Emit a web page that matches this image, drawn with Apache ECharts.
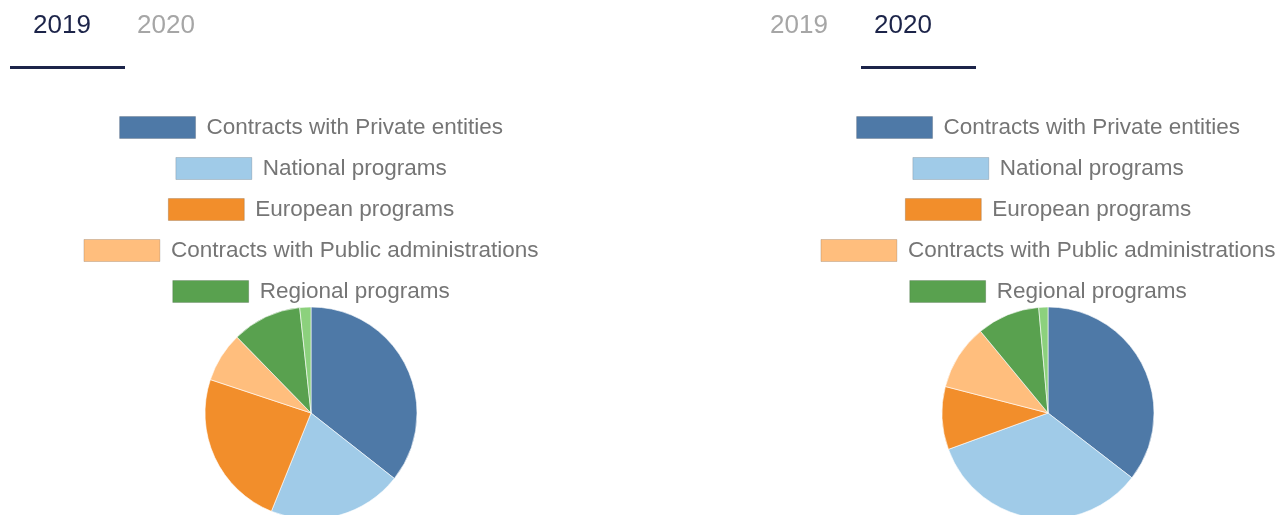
<!DOCTYPE html>
<html>
<head>
<meta charset="utf-8">
<script src="https://cdn.jsdelivr.net/npm/echarts@6/dist/echarts.min.js"></script>
<style>
  html, body { margin: 0; padding: 0; background: #fff; overflow: hidden; width: 1279px; height: 515px; }
  .box { position: absolute; top: 0; width: 622px; height: 515px; }
</style>
</head>
<body>
<div id="c2019" class="box" style="left:0px"></div>
<div id="c2020" class="box" style="left:737px"></div>
<script>
// 数据
var years = ['2019', '2020'];
var categories = [
  'Contracts with Private entities',
  'National programs',
  'European programs',
  'Contracts with Public administrations',
  'Regional programs',
  'Other'
];
var legendNames = categories.slice(0, 5); // 图例只显示前五项
var colors = ['#4e79a7', '#a0cbe8', '#f28e2b', '#ffbe7d', '#59a14f', '#8cd17d'];
var values2019 = [35.6, 20.5, 24.0, 7.6, 10.6, 1.7];
var values2020 = [35.5, 34.0, 9.6, 10.0, 9.6, 1.4];
var valuesByYear = [values2019, values2020];

function makeOption(activeIdx, values) {
  var legends = legendNames.map(function (name, i) {
    return {
      data: [name],
      left: 'center',
      top: 116 + i * 41,
      padding: 0,
      itemWidth: 76,
      itemHeight: 22,
      icon: 'rect',
      selectedMode: false,
      itemStyle: { borderColor: 'rgba(0,0,0,0.15)', borderWidth: 1 },
      textStyle: {
        color: '#757575',
        fontFamily: 'Liberation Sans, Arial, sans-serif',
        fontSize: 22.5,
        padding: [0, 0, 0, 6]
      }
    };
  });
  //顶部的年份标签
  var tabs = [];
  var tabX = [33, 137];
  years.forEach(function (y, i) {
    tabs.push({
      type: 'text',
      left: tabX[i],
      top: 13,
      style: {
        text: y,
        fill: i === activeIdx ? '#1c2449' : '#a6a6a6',
        font: '26px "Liberation Sans", Arial, sans-serif'
      }
    });
  });
  tabs.push({
    type: 'rect',
    left: activeIdx === 0 ? 10 : 124,
    top: 66,
    shape: { width: 115, height: 3 },
    style: { fill: '#1c2449' }
  });
  return {
    animation: false,
    color: colors,
    legend: legends,
    graphic: tabs,
    series: [
      {
        type: 'pie',
        center: [311, 413],
        radius: 106,
        startAngle: 90,
        clockwise: true,
        silent: true,
        label: { show: false },
        labelLine: { show: false },
        itemStyle: { borderColor: '#fff', borderWidth: 0.6 },
        data: categories.map(function (c, i) {
          return { name: c, value: values[i] };
        })
      }
    ]
  };
}

years.forEach(function (y, i) {
  var chart = echarts.init(document.getElementById('c' + y));
  chart.setOption(makeOption(i, valuesByYear[i]));
});
</script>
</body>
</html>
